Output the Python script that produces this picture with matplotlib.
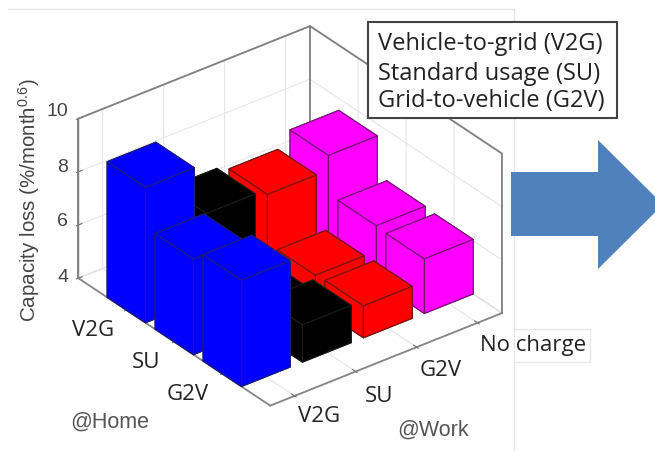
import matplotlib
matplotlib.use('Agg')
import matplotlib.pyplot as plt
from matplotlib.lines import Line2D
from matplotlib.patches import Polygon, Rectangle

W, H = 655, 451

# capacity loss values, one list per @Work case, ordered @Home G2V, SU, V2G
home_labels = ['G2V', 'SU', 'V2G']
work_labels = ['V2G', 'SU', 'G2V', 'No charge']
work_v2g = [8.0, 7.6, 9.1]
work_su = [5.4, 5.0, 7.2]
work_g2v = [5.2, 5.15, 7.0]
work_none = [6.05, 6.1, 7.55]
z_ticks = [4, 6, 8, 10]
legend_lines = ['Vehicle-to-grid (V2G)', 'Standard usage (SU)', 'Grid-to-vehicle (G2V)']

series = [work_v2g, work_su, work_g2v, work_none]
face_colors = ['#0000ff', '#000000', '#ff0000', '#ff00ff']
edge_colors = ['#1c1c78', '#1c1c1c', '#701414', '#701470']


def fx(x):
    return x / W


def fy(y):
    return 1 - y / H


fig = plt.figure(figsize=(W / 100, H / 100), dpi=100)

# faint frame of the pasted picture
fig.add_artist(Line2D([fx(8), fx(514), fx(514)], [fy(9), fy(9), fy(329)], color='#e4e4e4', lw=1))
fig.add_artist(Line2D([fx(514), fx(514)], [fy(362), fy(451)], color='#e4e4e4', lw=1))

# axes square is centred on the middle of the projected box
S = 454
cx, cy = 284, 222
ax = fig.add_axes([fx(cx - S / 2), fy(cy + S / 2), S / W, S / H], projection='3d', proj_type='ortho')
ax.patch.set_alpha(0)
ax.view_init(elev=31, azim=-127.8)
ax.set_box_aspect((294, 314, 186.6))
ax.computed_zorder = False

xlim = (0.6, 4.40)
ylim = (-1, 3)
zlim = (4, 10)

# back walls outline, the panes alone leave the outer verticals out
ax.plot([xlim[0], xlim[0], xlim[1], xlim[1], xlim[1]],
        [ylim[1], ylim[1], ylim[1], ylim[0], ylim[0]],
        [zlim[0], zlim[1], zlim[1], zlim[1], zlim[0]], color='#808080', lw=1.3, zorder=0)
ax.plot([xlim[1], xlim[1]], [ylim[1], ylim[1]], [zlim[0], zlim[1]], color='#808080', lw=1.3, zorder=0)

# back to front so that the bars cover each other correctly
order = 1
for i in reversed(range(4)):
    for j in reversed(range(3)):
        ax.bar3d(i + 1 - 0.4, j - 0.4, 4, 0.8, 0.8, series[i][j] - 4, color=face_colors[i],
                 edgecolor=edge_colors[i], linewidth=0.8, shade=False, zorder=order)
        order += 1

ax.set_xlim(*xlim)
ax.set_ylim(*ylim)
ax.set_zlim(*zlim)
ax.set_xticks([1, 2, 3, 4])
ax.set_yticks([0, 1, 2])
ax.set_zticks(z_ticks)
ax.set_xticklabels([])
ax.set_yticklabels([])
ax.set_zticklabels([])
ax.zaxis.set_ticks_position('upper')
ax.tick_params(axis='both', color='#707070', width=1)

for axis in [ax.xaxis, ax.yaxis, ax.zaxis]:
    axis.pane.set_facecolor('white')
    axis.pane.set_edgecolor('#c8c8c8')
    axis.pane.set_linewidth(1.0)
    axis.line.set_color('#858585')
    axis.line.set_linewidth(1.3)
    axis._axinfo['grid']['color'] = '#e6e6e6'
    axis._axinfo['grid']['linewidth'] = 0.8
    axis._axinfo['tick']['color'] = '#707070'
    axis._axinfo['tick']['inward_factor'] = 0.1
    axis._axinfo['tick']['outward_factor'] = 0.2

# tick texts
cat_font = {'family': 'Open Sans', 'size': 16, 'color': '#222222', 'ha': 'center', 'va': 'center'}
for label, (x, y) in zip(home_labels, [(188, 395), (146, 362), (93, 331)]):
    fig.text(fx(x), fy(y), label, **cat_font)
for label, (x, y) in zip(work_labels, [(319, 416), (379, 396), (441, 371), (533, 346)]):
    if label == 'No charge':
        fig.add_artist(Rectangle((fx(514), fy(362)), fx(76), 33 / H, facecolor='white',
                                 edgecolor='#e8e8e8', lw=1, zorder=2))
    fig.text(fx(x), fy(y), label, zorder=3, **cat_font)

for tick, y in zip(z_ticks, [278, 222, 167, 111]):
    fig.text(fx(68), fy(y), str(tick), family='Liberation Sans', fontsize=14, color='#444444',
             ha='right', va='center')

plt.rcParams['mathtext.default'] = 'regular'
fig.text(fx(29), fy(200), 'Capacity loss (%/month$^{0.6}$)', family='Liberation Sans', fontsize=14.8,
         color='#444444', rotation=90, ha='center', va='center')
fig.text(fx(110), fy(422), '@Home', family='Liberation Sans', fontsize=15.5, color='#555555', ha='center', va='center')
fig.text(fx(433), fy(430), '@Work', family='Liberation Sans', fontsize=15.5, color='#555555', ha='center', va='center')

# legend box drawn on top of the axes
fig.add_artist(Rectangle((fx(368), fy(118)), 249 / W, 96 / H, facecolor='white', edgecolor='#444444', lw=1.5, zorder=5))
for line, y in zip(legend_lines, [44, 74, 101]):
    fig.text(fx(378), fy(y), line, family='Open Sans', fontsize=17, color='#222222', ha='left', va='center', zorder=6)

# block arrow on the right
arrow = [(511, 172), (598, 172), (598, 140), (663, 204.5), (598, 269), (598, 236), (511, 236)]
fig.add_artist(Polygon([(fx(x), fy(y)) for x, y in arrow], closed=True, facecolor='#4f81bd', edgecolor='none', zorder=4))

fig.savefig('out.png', dpi=100)
